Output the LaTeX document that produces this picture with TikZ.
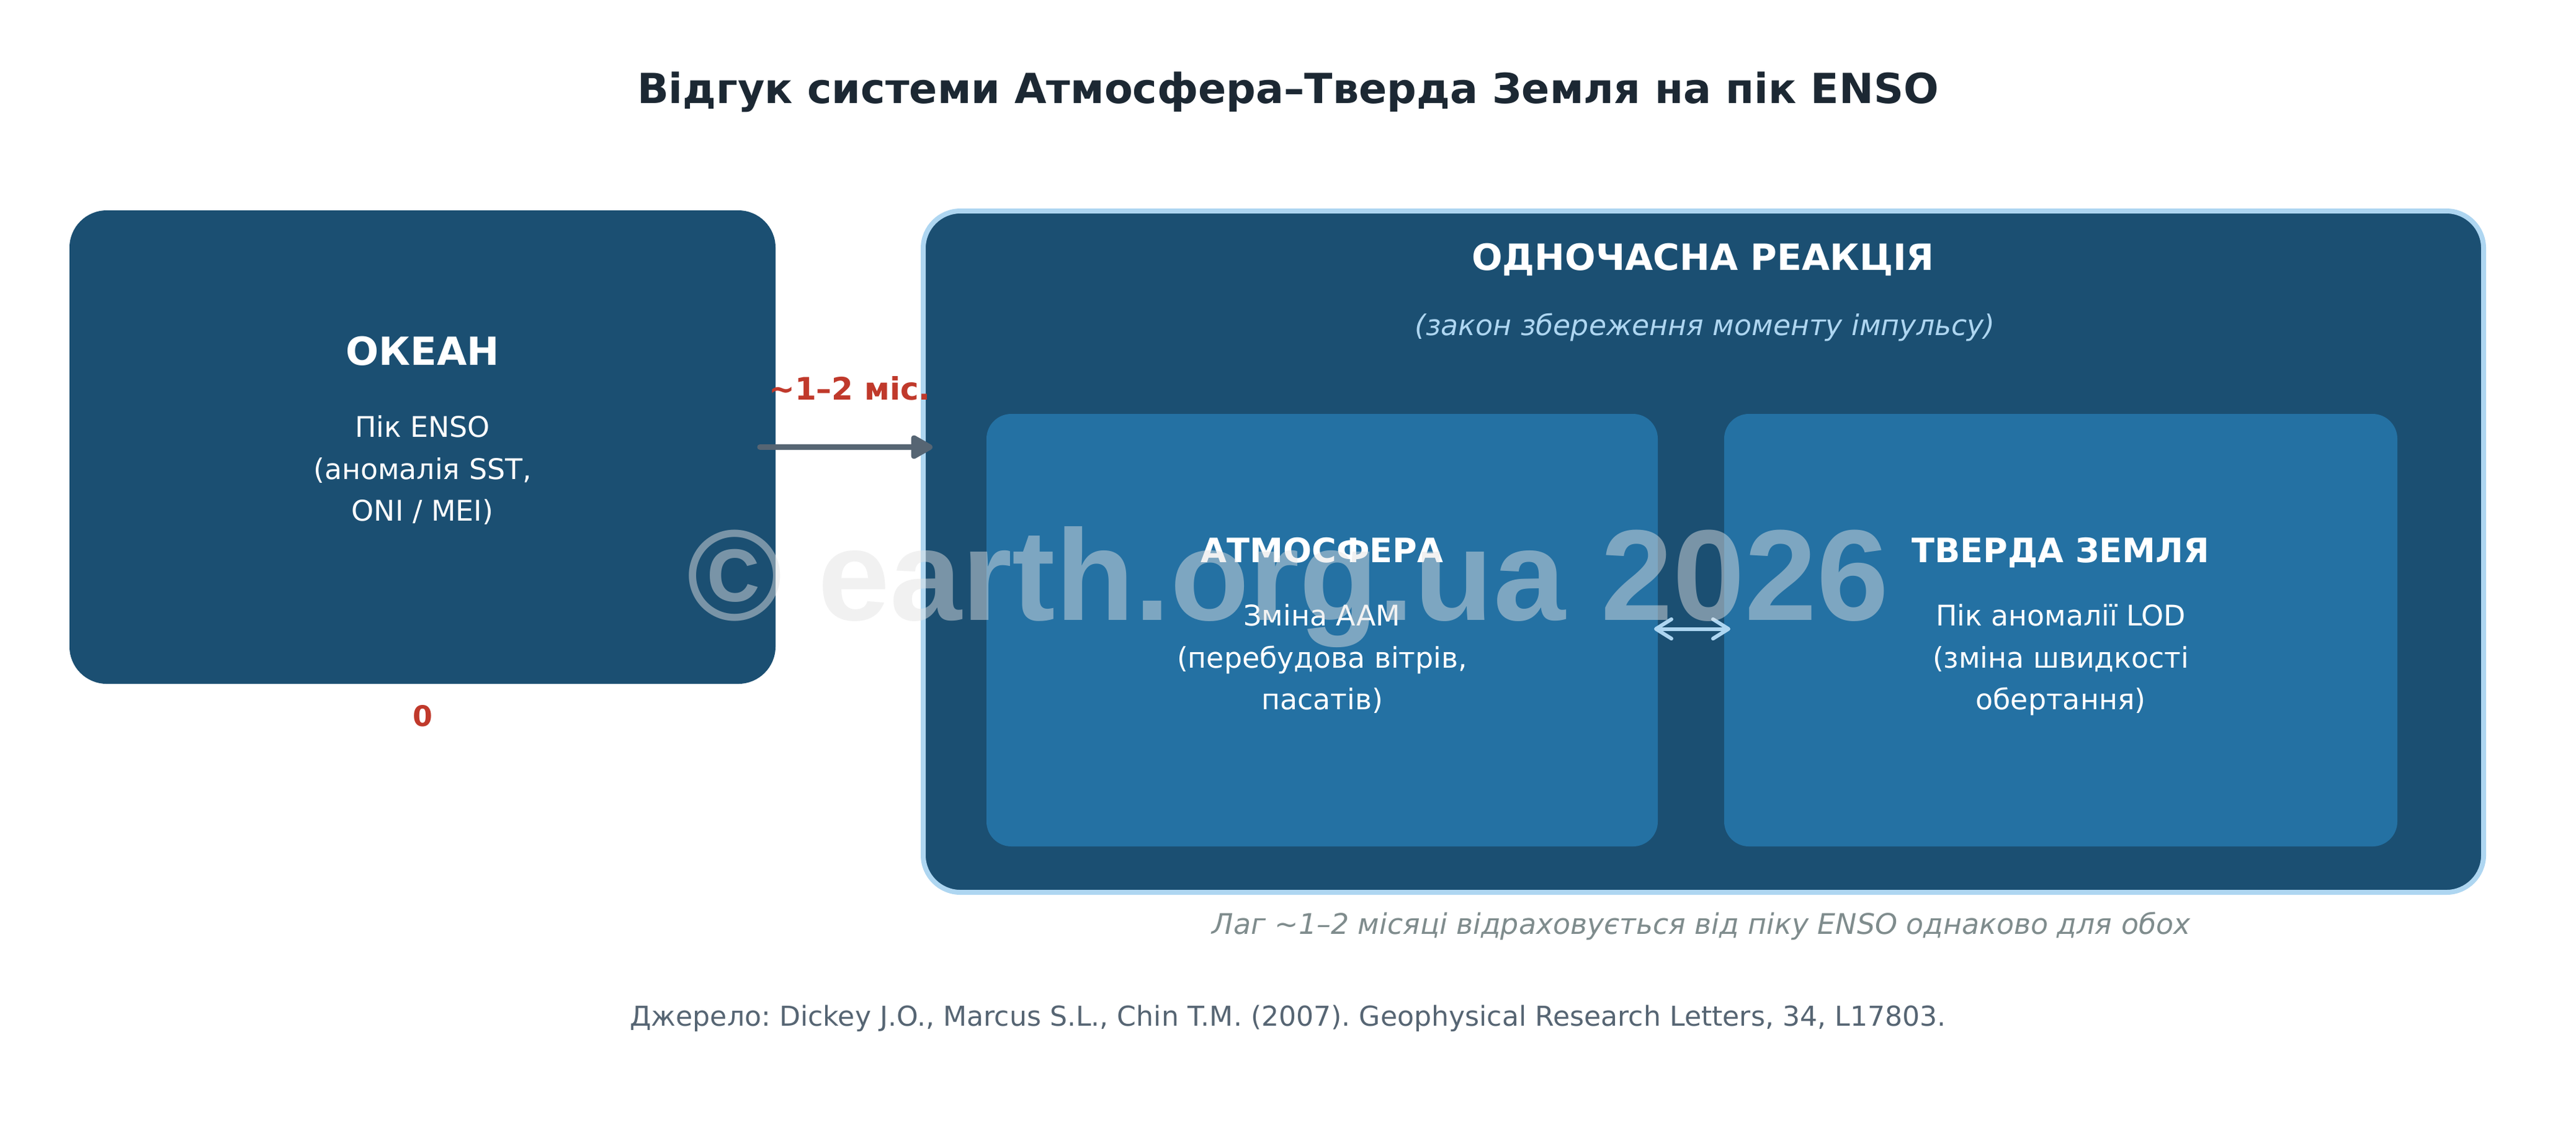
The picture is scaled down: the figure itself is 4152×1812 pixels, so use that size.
\documentclass[tikz,border=0pt]{standalone}
\usepackage{fontspec}
\setmainfont{DejaVu Sans}
\newfontfamily\wmfont{Liberation Sans}
\usetikzlibrary{arrows.meta,calc}
\definecolor{navy}{HTML}{1B4F72}
\definecolor{midblue}{HTML}{2471A3}
\definecolor{lightblue}{HTML}{AED6F1}
\definecolor{redc}{HTML}{C0392B}
\definecolor{titlec}{HTML}{1C2833}
\definecolor{arrowc}{HTML}{566573}
\definecolor{capc}{HTML}{7F8C8D}
\definecolor{srcc}{HTML}{566573}
\definecolor{wmc}{RGB}{227,227,227}
\tikzset{
  bigbox/.style={fill=navy, rounded corners=14.4pt, inner sep=0pt, outer sep=0pt},
  framebox/.style={fill=navy, draw=lightblue, line width=1.92pt, rounded corners=14.4pt, inner sep=0pt, outer sep=0pt},
  innerbox/.style={fill=midblue, rounded corners=9.6pt, inner sep=0pt, outer sep=0pt},
  txt/.style={inner sep=0pt, outer sep=0pt, anchor=base},
  headw/.style={txt, text=white, font=\bfseries\fontsize{15}{18}\selectfont},
  subhead/.style={txt, text=white, font=\bfseries\fontsize{13}{16}\selectfont},
  bodyw/.style={txt, text=white, font=\fontsize{11}{14}\selectfont},
  redlab/.style={txt, text=redc, font=\bfseries\fontsize{12}{15}\selectfont},
  mainarrow/.style={draw=arrowc, line width=2.2pt, line cap=round, -{Triangle[length=9.5pt,width=10pt,round]}},
  duoarrow/.style={draw=lightblue, line width=1.44pt, line cap=round, {Straight Barb[length=6pt,width=7.5pt,round]}-{Straight Barb[length=6pt,width=7.5pt,round]}}
}
\begin{document}
\frenchspacing
\begin{tikzpicture}[x=0.24pt,y=-0.24pt]
\useasboundingbox (0,0) rectangle (4152,1812);
\fill[white] (0,0) rectangle (4152,1812);

% title
\node[txt, text=titlec, font=\bfseries\fontsize{16}{19}\selectfont] (title) at (2076,166) {Відгук системи Атмосфера–Тверда Земля на пік ENSO};

% ocean box
\node[bigbox, minimum width=1138*0.24pt, minimum height=763*0.24pt] (ocean) at (681,720.5) {};
\node[headw] (oceanhead) at (681,588) {ОКЕАН};
\node[bodyw] (ocean1) at (681,704) {Пік ENSO};
\node[bodyw] (ocean2) at (681,772) {(аномалія SST,};
\node[bodyw] (ocean3) at (681,839) {ONI / MEI)};
\node[redlab, font=\bfseries\fontsize{11}{14}\selectfont] (zero) at (681,1170) {0};

% reaction box
\node[framebox, minimum width=2515*0.24pt, minimum height=1098*0.24pt] (react) at (2745.5,889) {};
\node[txt, text=white, font=\bfseries\fontsize{14}{17}\selectfont] (reacthead) at (2745,435) {ОДНОЧАСНА РЕАКЦІЯ};
\node[txt, text=lightblue, font=\itshape\fontsize{11}{14}\selectfont] (reactsub) at (2748,540) {(закон збереження моменту імпульсу)};

% inner boxes
\node[innerbox, minimum width=1082*0.24pt, minimum height=697*0.24pt] (atm) at (2131,1015.5) {};
\node[innerbox, minimum width=1085*0.24pt, minimum height=697*0.24pt] (earth) at (3321.5,1015.5) {};

\node[subhead] (atmhead) at (2131,906) {АТМОСФЕРА};
\node[bodyw] (atm1) at (2131,1008) {Зміна AAM};
\node[bodyw] (atm2) at (2131,1076) {(перебудова вітрів,};
\node[bodyw] (atm3) at (2131,1143) {пасатів)};

\node[subhead] (earthhead) at (3321.5,906) {ТВЕРДА ЗЕМЛЯ};
\node[bodyw] (earth1) at (3321.5,1008) {Пік аномалії LOD};
\node[bodyw] (earth2) at (3321.5,1076) {(зміна швидкості};
\node[bodyw] (earth3) at (3321.5,1143) {обертання)};

% connectors
\draw[mainarrow] ($(ocean.east)+(-25,0)$) -- ($(ocean.east -| react.west)+(15,0)$);
\node[redlab] (laglab) at (1369.5,644) {\textasciitilde1–2 міс.};
\draw[duoarrow] ($(atm.east)+(-6,-2)$) -- ($(earth.west)+(10,-2)$);

% notes
\node[txt, text=capc, font=\itshape\fontsize{11}{14}\selectfont] (caption) at (2742,1505) {Лаг \textasciitilde1–2 місяці відраховується від піку ENSO однаково для обох};
\node[txt, text=srcc, font=\fontsize{10.6}{13}\selectfont] (source) at (2076,1653) {Джерело: Dickey J.O., Marcus S.L., Chin T.M. (2007). Geophysical Research Letters, 34, L17803.};

% watermark
\node[txt, text=wmc, opacity=0.47, font=\wmfont\bfseries\fontsize{50}{58}\selectfont] (wm) at (2076,999) {© earth.org.ua 2026};
\end{tikzpicture}
\end{document}
